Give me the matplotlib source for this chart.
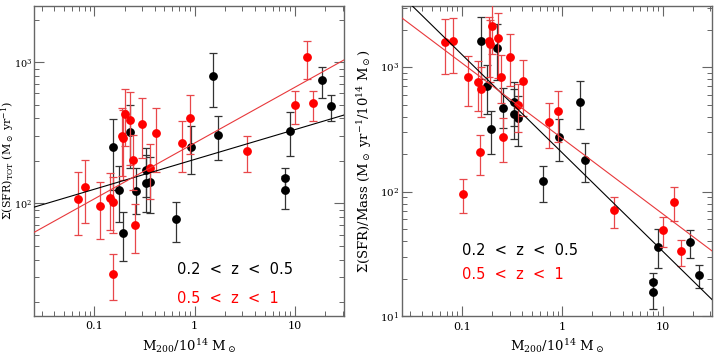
import numpy as np
import matplotlib
matplotlib.use('Agg')
import matplotlib.pyplot as plt
from matplotlib.ticker import LogLocator, NullFormatter

plt.rcParams['font.family'] = ['DejaVu Serif']
plt.rcParams['mathtext.fontset'] = 'dejavuserif'

# ---------- 0.2 < z < 0.5 (black) ----------
m200_low = np.array([0.155, 0.176, 0.195, 0.225, 0.258, 0.327, 0.331, 0.363, 0.647,
                     0.92, 1.51, 1.70, 7.98, 7.98, 8.95, 18.85, 23.0])
sfr_low = np.array([250, 125, 62, 320, 122, 172, 140, 142, 78,
                    252, 792, 305, 150, 124, 323, 745, 491])
sfr_low_hi = np.array([394, 184, 87, 498, 177, 247, 220, 213, 103,
                       353, 1159, 416, 177, 155, 447, 931, 586])
sfr_low_lo = np.array([124, 74, 39, 178, 84, 111, 87, 85, 53,
                       161, 480, 203, 123, 91, 216, 556, 385])

# ---------- 0.5 < z < 1 (red) ----------
m200_high = np.array([0.068, 0.0815, 0.115, 0.1445, 0.153, 0.152, 0.187, 0.191, 0.201,
                      0.229, 0.242, 0.255, 0.300, 0.360, 0.410, 0.744, 0.906,
                      3.31, 10.08, 13.12, 15.34, 0.1023])
sfr_high = np.array([108, 131, 95, 109, 102, 31.7, 302, 292, 428,
                     392, 202, 70.5, 362, 178.5, 315, 268, 404,
                     236, 496, 1090, 510, 9.72])
sfr_high_hi = np.array([167, 203, 142, 163, 154.5, 43.5, 473, 459, 650,
                        618, 305, 98.6, 556, 262, 472, 384, 586,
                        301, 625, 1422, 625, 12.8])
sfr_high_lo = np.array([59.6, 72.8, 55.8, 64.7, 61.2, 20.6, 156, 146, 254,
                        186, 124, 44.2, 210, 108, 167, 168, 225,
                        168, 363, 762, 385, 6.85])

# log-log fits: log y = a + b log x  (left panel)
fit_low = (2.311, 0.211)
fit_high = (2.427, 0.395)

BLACK_BAR = '#333333'
RED_BAR = '#e8474a'
FRAME = '#666666'

fig = plt.figure(figsize=(7.18, 3.57), dpi=100)
ax1 = fig.add_axes([0.0474, 0.1157, 0.4318, 0.8675])
ax2 = fig.add_axes([0.5595, 0.1148, 0.4318, 0.8684])


def draw_panel(ax, y_low, ylo_low, yhi_low, y_high, ylo_high, yhi_high, slope_shift):
    ax.errorbar(m200_low, y_low, yerr=[y_low - ylo_low, yhi_low - y_low],
                fmt='o', color='black', ms=5.3, ecolor=BLACK_BAR, elinewidth=0.9,
                capsize=2.6, capthick=0.9, zorder=3)
    ax.errorbar(m200_high, y_high, yerr=[y_high - ylo_high, yhi_high - y_high],
                fmt='o', color='#ff0000', ms=5.3, ecolor=RED_BAR, elinewidth=0.9,
                capsize=2.6, capthick=0.9, zorder=4)
    xx = np.logspace(np.log10(0.02), np.log10(40), 50)
    for (a, b), c in [(fit_low, 'black'), (fit_high, '#e8383b')]:
        ax.plot(xx, 10 ** (a + (b + slope_shift) * np.log10(xx)), color=c, lw=0.8, zorder=5)
    ax.set_xscale('log')
    ax.set_yscale('log')
    ax.set_xticks([0.1, 1, 10])
    ax.set_xticklabels(['0.1', '1', '10'])
    ax.xaxis.set_minor_locator(LogLocator(base=10, subs=np.arange(2, 10), numticks=20))
    ax.yaxis.set_minor_locator(LogLocator(base=10, subs=np.arange(2, 10), numticks=20))
    ax.xaxis.set_minor_formatter(NullFormatter())
    ax.yaxis.set_minor_formatter(NullFormatter())
    ax.tick_params(which='both', direction='in', top=True, right=True, color=FRAME,
                   labelsize=8)
    ax.tick_params(which='major', length=7, width=0.8, pad=4)
    ax.tick_params(axis='y', which='major', pad=2, labelsize=7.5)
    ax.tick_params(which='minor', length=3.5, width=0.7)
    for s in ax.spines.values():
        s.set_color(FRAME)
        s.set_linewidth(1.0)
    ax.set_xlabel(r'M$_{200}$/10$^{14}$ M$_\odot$', fontsize=9.5)
    ax.xaxis.set_label_coords(0.5, -0.068)


draw_panel(ax1, sfr_low, sfr_low_lo, sfr_low_hi,
           sfr_high, sfr_high_lo, sfr_high_hi, 0.0)
ax1.tick_params(axis='y', which='major', pad=1.5, labelsize=7)
ax1.set_xlim(0.025, 31)
ax1.set_ylim(16, 2500)
ax1.set_ylabel(r'$\Sigma$(SFR)$_{\rm TOT}$ (M$_\odot$ yr$^{-1}$)', fontsize=8,
               va='center')
ax1.yaxis.set_label_coords(-0.084, 0.5)
ax1.text(0.46, 0.15, '0.2  <  z  <  0.5', transform=ax1.transAxes, color='black',
         fontsize=10.5, family='DejaVu Sans', va='center')
ax1.text(0.46, 0.057, '0.5  <  z  <  1', transform=ax1.transAxes, color='#ff0000',
         fontsize=10.5, family='DejaVu Sans', va='center')

draw_panel(ax2, sfr_low / m200_low, sfr_low_lo / m200_low, sfr_low_hi / m200_low,
           sfr_high / m200_high, sfr_high_lo / m200_high, sfr_high_hi / m200_high, -1.0)
ax2.set_xlim(0.025, 31)
ax2.set_ylim(10, 3100)
ax2.set_ylabel(r'$\Sigma$(SFR)/Mass (M$_\odot$ yr$^{-1}$/10$^{14}$ M$_\odot$)', fontsize=9.5)
ax2.yaxis.set_label_coords(-0.088, 0.5)
ax2.text(0.195, 0.211, '0.2  <  z  <  0.5', transform=ax2.transAxes, color='black',
         fontsize=10.5, family='DejaVu Sans', va='center')
ax2.text(0.195, 0.135, '0.5  <  z  <  1', transform=ax2.transAxes, color='#ff0000',
         fontsize=10.5, family='DejaVu Sans', va='center')

fig.savefig('out.png', dpi=100)
